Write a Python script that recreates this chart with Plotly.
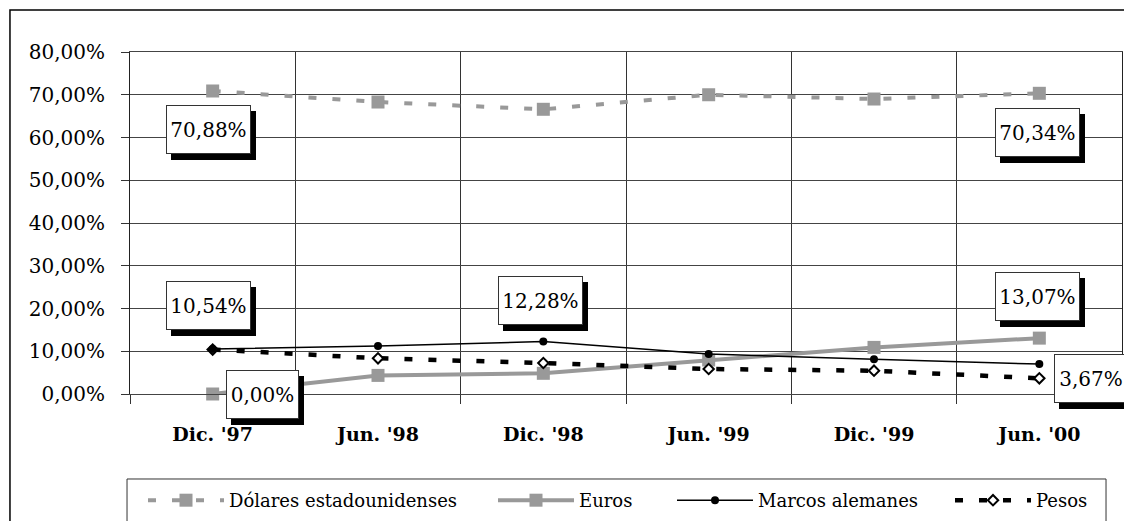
import plotly.graph_objects as go

# Periods on the category axis
periods = ["Dic. '97", "Jun. '98", "Dic. '98", "Jun. '99", "Dic. '99", "Jun. '00"]

# Currency shares (%)
dolares = [70.88, 68.3, 66.6, 70.0, 69.0, 70.34]
euros = [0.00, 4.35, 4.84, 7.95, 10.9, 13.07]
marcos = [10.54, 11.2, 12.28, 9.36, 8.1, 7.0]
pesos = [10.4, 8.35, 7.25, 5.85, 5.45, 3.67]

y_ticks = [0, 10, 20, 30, 40, 50, 60, 70, 80]

FONT = "DejaVu Serif"
GRAY = "#999999"


def pct(v):
    return f"{v:.2f}".replace(".", ",") + "%"


fig = go.Figure()

fig.add_trace(go.Scatter(
    x=periods, y=dolares, name="Dólares estadounidenses", mode="lines+markers",
    line=dict(color=GRAY, width=4, dash="8px,16px"),
    marker=dict(symbol="square", size=13, color=GRAY),
    cliponaxis=False, legend="legend",
))
fig.add_trace(go.Scatter(
    x=periods, y=euros, name="Euros", mode="lines+markers",
    line=dict(color=GRAY, width=4),
    marker=dict(symbol="square", size=13, color=GRAY),
    cliponaxis=False, legend="legend2",
))
fig.add_trace(go.Scatter(
    x=periods, y=pesos, name="Pesos", mode="lines+markers",
    line=dict(color="black", width=4.5, dash="8px,16px"),
    marker=dict(symbol="diamond", size=8, color="white",
                line=dict(color="black", width=2)),
    cliponaxis=False, legend="legend4",
))
fig.add_trace(go.Scatter(
    x=periods, y=marcos, name="Marcos alemanes", mode="lines+markers",
    line=dict(color="black", width=1.5),
    marker=dict(symbol="circle", size=8, color="black"),
    cliponaxis=False, legend="legend3",
))

# Boxed value labels with a drop shadow: (series, index, xshift, yshift, box width)
callouts = [
    (dolares, 0, -4, -39, 83),
    (dolares, 5, -2, -39, 83),
    (marcos, 0, -4, 43, 83),
    (euros, 0, 50, 0, 71),
    (marcos, 2, -3, 41, 83),
    (euros, 5, -2, 42, 83),
    (pesos, 5, 52, 0, 72),
]

for series, i, dx, dy, w in callouts:
    common = dict(x=periods[i], y=series[i], xref="x", yref="y",
                  showarrow=False, width=w, height=47, borderpad=0)
    fig.add_annotation(text=" ", xshift=dx + 5, yshift=dy - 6,
                       bgcolor="black", bordercolor="black", borderwidth=1,
                       **common)
    fig.add_annotation(text=pct(series[i]), xshift=dx, yshift=dy,
                       bgcolor="white", bordercolor="#333", borderwidth=1,
                       font=dict(family=FONT, size=20, color="black"),
                       **common)

# Outer chart frame and legend frame
fig.add_shape(type="rect", xref="paper", yref="paper",
              x0=-0.121, x1=1.02, y0=-0.45, y1=1.1228,
              line=dict(color="black", width=1.5), layer="below")
fig.add_shape(type="rect", xref="paper", yref="paper",
              x0=-0.003, x1=0.9839, y0=-0.45, y1=-0.2485,
              line=dict(color="#333", width=1), layer="below")

legend_style = dict(
    orientation="h", xanchor="left", y=-0.2573, yanchor="top",
    borderwidth=0, bgcolor="rgba(0,0,0,0)",
    font=dict(family=FONT, size=18, color="black"),
    itemwidth=76,
)
# left edge of each legend entry, in px from the plot's left edge
legend_px = [13, 363, 542, 820]

fig.update_layout(
    width=1124, height=521,
    margin=dict(l=130, r=2, t=52, b=127, autoexpand=False),
    paper_bgcolor="white", plot_bgcolor="white",
    font=dict(family=FONT, size=20, color="black"),
    showlegend=True,
    legend=dict(x=legend_px[0] / 992, **legend_style),
    legend2=dict(x=legend_px[1] / 992, **legend_style),
    legend3=dict(x=legend_px[2] / 992, **legend_style),
    legend4=dict(x=legend_px[3] / 992, **legend_style),
)

fig.update_xaxes(
    type="category", tickson="boundaries", range=[-0.5, len(periods) - 0.5],
    showgrid=True, gridcolor="#333", gridwidth=1,
    ticks="outside", ticklen=9, tickcolor="#333",
    showline=True, linecolor="#444", mirror=True,
    tickfont=dict(family=FONT, size=19, color="black", weight="bold"),
    ticklabelstandoff=23,
)
fig.update_yaxes(
    range=[0, 80], tickmode="array", tickvals=y_ticks,
    ticktext=[pct(v) for v in y_ticks],
    showgrid=True, gridcolor="#444", gridwidth=1, zeroline=False,
    ticks="outside", ticklen=8, tickcolor="#333",
    showline=True, linecolor="#222", mirror=True,
    tickfont=dict(family=FONT, size=20, color="black"),
    ticklabelstandoff=12,
)

fig.write_html("out.html")
